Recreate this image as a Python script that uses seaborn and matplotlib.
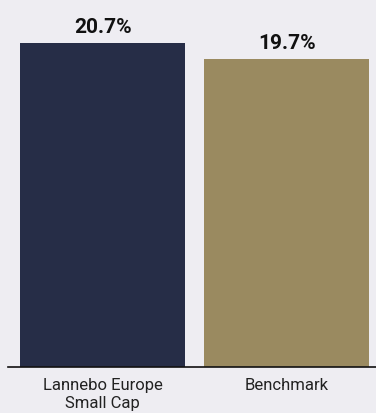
import matplotlib
matplotlib.use("Agg")
import matplotlib.pyplot as plt
import seaborn as sns
import pandas as pd

categories = ["Lannebo Europe\nSmall Cap", "Benchmark"]
values = [20.7, 19.7]
labels = ["20.7%", "19.7%"]
colors = ["#262d47", "#9a8a60"]

sns.set_theme(style="white")
plt.rcParams["font.family"] = ["Roboto", "DejaVu Sans"]

bg = "#eeedf2"
fig = plt.figure(figsize=(3.76, 4.14), dpi=100, facecolor=bg)
ax = fig.add_axes([8/376, 46/414, 368/376, 368/414])
ax.set_facecolor(bg)

df = pd.DataFrame({"cat": categories, "val": values})
sns.barplot(data=df, x="cat", y="val", hue="cat", palette=colors,
            width=0.9, saturation=1, legend=False, linewidth=0, ax=ax)

ax.set_xlim(-0.514, 1.486)
ax.set_ylim(0, 23.5)
for i, (v, lab) in enumerate(zip(values, labels)):
    ax.text(i, v + 0.7, lab, ha="center", va="baseline", fontsize=15,
            fontweight="bold", color="#111111")

for s in ["top", "right", "left"]:
    ax.spines[s].set_visible(False)
ax.spines["bottom"].set_color("#111111")
ax.spines["bottom"].set_linewidth(1.2)
ax.set_yticks([])
ax.set_xlabel("")
ax.set_ylabel("")
ax.tick_params(axis="x", length=0, pad=7, labelsize=12, labelcolor="#222222")
for t in ax.get_xticklabels():
    t.set_linespacing(1.3)

fig.savefig("out.png", dpi=100, facecolor=bg)
